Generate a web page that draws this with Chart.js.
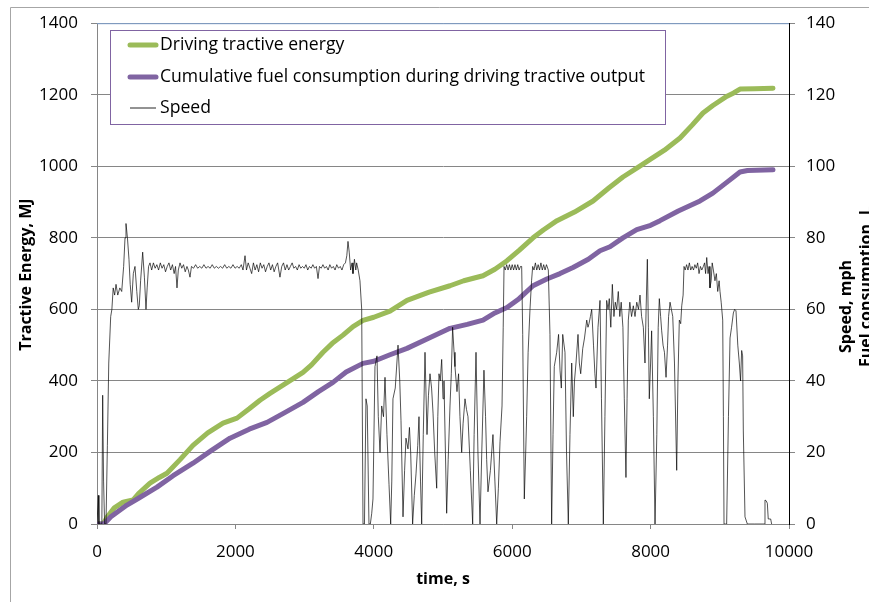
<!DOCTYPE html>
<html>
<head>
<meta charset="utf-8">
<script src="https://cdn.jsdelivr.net/npm/chart.js@4.4.1/dist/chart.umd.min.js"></script>
<style>
  html, body { margin: 0; padding: 0; background: #fff; }
  #wrap { width: 869px; height: 602px; position: relative; }
</style>
</head>
<body>
<div id="wrap"><canvas id="chartCanvas" width="869" height="602"></canvas></div>
<script>
// Driving tractive energy, MJ (left axis)
const energyTime = [0, 90, 150, 250, 376, 520, 600, 766, 900, 1011, 1200, 1387, 1600, 1821, 2023, 2200, 2355, 2500, 2688, 2977, 3100, 3266, 3400, 3555, 3700, 3844, 4000, 4234, 4480, 4800, 5101, 5300, 5578, 5750, 5925, 6100, 6301, 6450, 6647, 6900, 7168, 7400, 7600, 7800, 8000, 8200, 8425, 8600, 8757, 8900, 9104, 9200, 9292, 9500, 9769];
const energyMJ = [0, 0, 20, 45, 61, 67, 85, 114, 130, 142, 180, 220, 255, 282, 296, 322, 346, 365, 388, 424, 445, 480, 505, 528, 552, 569, 578, 595, 625, 648, 666, 680, 694, 712, 736, 765, 800, 822, 848, 872, 903, 940, 970, 995, 1020, 1045, 1079, 1115, 1149, 1170, 1196, 1205, 1216, 1217, 1218];

// Cumulative fuel consumption, L (right axis)
const fuelTime = [0, 100, 200, 433, 600, 867, 1100, 1387, 1650, 1922, 2200, 2457, 2700, 2977, 3200, 3410, 3600, 3844, 4000, 4234, 4480, 4800, 5101, 5350, 5578, 5750, 5925, 6100, 6301, 6500, 6691, 6879, 7100, 7269, 7413, 7600, 7800, 8000, 8136, 8400, 8714, 8900, 9100, 9292, 9400, 9769];
const fuelL = [0, 0, 2, 5.3, 7.2, 10.3, 13.5, 17, 20.5, 24, 26.5, 28.4, 31, 34, 37, 39.6, 42.5, 44.9, 45.5, 47.3, 49.1, 52, 54.7, 55.8, 57, 59, 60.5, 63, 66.6, 68.5, 70, 71.7, 74, 76.4, 77.5, 80, 82.3, 83.5, 84.8, 87.5, 90.3, 92.5, 95.5, 98.4, 98.8, 99];

// Vehicle speed, mph (right axis)
const speedTime = [
  0, 12, 20, 28, 70, 82, 95, 110, 130, 150, 170, 198, 215, 234, 255, 275, 300, 330, 357, 385,
  405, 419, 440, 462, 480, 501, 525, 549, 575, 597, 611, 630, 660, 685, 708, 725, 745, 766, 790, 815,
  840, 865, 890, 915, 940, 965, 990, 1015, 1040, 1065, 1090, 1115, 1135, 1156, 1175, 1200, 1225, 1250, 1275, 1300,
  1320, 1344, 1365, 1395, 1425, 1455, 1485, 1515, 1545, 1575, 1605, 1635, 1665, 1695, 1725, 1755, 1785, 1815, 1845, 1875,
  1905, 1935, 1965, 1995, 2025, 2055, 2085, 2110, 2139, 2160, 2185, 2210, 2235, 2260, 2285, 2310, 2335, 2360, 2385, 2410,
  2435, 2460, 2485, 2510, 2535, 2560, 2585, 2610, 2644, 2670, 2695, 2720, 2745, 2770, 2795, 2820, 2845, 2870, 2895, 2920,
  2945, 2970, 2995, 3020, 3045, 3070, 3095, 3120, 3145, 3170, 3194, 3215, 3240, 3265, 3290, 3315, 3340, 3365, 3390, 3415,
  3440, 3465, 3490, 3515, 3540, 3565, 3590, 3610, 3627, 3645, 3665, 3685, 3699, 3720, 3740, 3752, 3775, 3800, 3825, 3844,
  3865, 3887, 3905, 3930, 3950, 3970, 3988, 4017, 4046, 4065, 4090, 4114, 4140, 4162, 4190, 4220, 4244, 4260, 4277, 4310,
  4350, 4375, 4393, 4422, 4445, 4465, 4494, 4515, 4533, 4561, 4585, 4610, 4635, 4653, 4675, 4692, 4715, 4740, 4769, 4790,
  4812, 4835, 4856, 4880, 4909, 4925, 4942, 4960, 4981, 5000, 5014, 5035, 5053, 5075, 5101, 5120, 5139, 5160, 5173, 5202,
  5225, 5245, 5270, 5290, 5318, 5340, 5361, 5395, 5429, 5450, 5477, 5505, 5535, 5560, 5592, 5615, 5631, 5650, 5685, 5722,
  5750, 5776, 5800, 5824, 5853, 5870, 5882, 5900, 5920, 5940, 5960, 5980, 6000, 6020, 6040, 6060, 6080, 6100, 6120, 6137,
  6152, 6175, 6195, 6209, 6230, 6257, 6280, 6296, 6315, 6335, 6355, 6375, 6395, 6415, 6435, 6455, 6475, 6495, 6522, 6546,
  6570, 6590, 6608, 6643, 6670, 6691, 6710, 6730, 6763, 6785, 6811, 6835, 6860, 6883, 6900, 6922, 6951, 6970, 6990, 7019,
  7045, 7077, 7095, 7110, 7130, 7149, 7175, 7195, 7211, 7240, 7269, 7290, 7317, 7340, 7365, 7385, 7403, 7425, 7447, 7470,
  7490, 7510, 7533, 7555, 7575, 7600, 7620, 7644, 7660, 7678, 7700, 7725, 7750, 7775, 7800, 7825, 7847, 7870, 7895, 7919,
  7935, 7953, 7968, 7981, 8000, 8015, 8040, 8064, 8090, 8110, 8126, 8145, 8160, 8180, 8200, 8223, 8245, 8260, 8281, 8300,
  8320, 8345, 8377, 8395, 8415, 8435, 8450, 8470, 8483, 8500, 8520, 8540, 8560, 8580, 8600, 8620, 8640, 8660, 8680, 8700,
  8720, 8740, 8762, 8780, 8795, 8811, 8830, 8845, 8858, 8875, 8890, 8907, 8930, 8950, 8970, 8990, 9003, 9020, 9042, 9052,
  9061, 9080, 9099, 9125, 9148, 9170, 9196, 9215, 9234, 9260, 9282, 9300, 9316, 9330, 9340, 9364, 9398, 9500, 9639, 9653,
  9670, 9687, 9700, 9735, 9749
];
const speedMph = [
  0, 0, 8, 0, 0, 36, 12, 0, 0, 22, 45, 58, 60, 66, 64, 67, 64, 66, 65, 72,
  80, 84, 80, 74, 67, 62, 70, 72, 65, 60, 61, 68, 76, 69, 60, 66, 72, 73, 71, 73,
  71.5, 72.5, 71, 73, 71.5, 72.5, 70.5, 72, 73, 71, 72.5, 70, 72, 66, 71, 73, 71.5, 72.5, 70.5, 72,
  71, 69, 72, 71.5, 72.5, 71.5, 72, 71.5, 72.5, 71.5, 72, 71.5, 72.5, 71.5, 72, 71.5, 72, 71.5, 72.5, 71.5,
  72, 71.5, 72.5, 71.5, 72, 71.5, 72.5, 71, 75, 71, 73, 71.5, 70, 73, 71, 72.5, 70.5, 73, 71.5, 72.5,
  70.5, 72, 73, 71, 72.5, 70.5, 72, 73, 69, 72, 73, 71, 72.5, 71, 72, 73, 71.5, 72, 71, 72.5,
  71.5, 72, 71.5, 72.5, 71, 72, 71.5, 72.5, 71.5, 72, 68.6, 72, 71.5, 72.5, 71.5, 72, 71, 72.5, 71.5, 72,
  71, 72.5, 71.5, 72, 71, 72.5, 73, 75, 79, 76, 71, 73, 70, 74, 71, 73, 71, 68, 60, 0,
  0, 35, 33, 0, 0, 3, 7, 44, 47, 30, 20, 33, 30, 41, 25, 11, 0, 12, 35, 38,
  50, 40, 29, 2, 15, 24, 21, 27, 20, 0, 8, 14, 22, 30, 12, 0, 25, 48, 25, 36,
  42, 38, 31, 20, 10, 30, 42, 40, 46, 35, 40, 20, 3, 18, 33, 42, 55, 48, 44, 37,
  42, 30, 20, 28, 35, 32, 30, 15, 0, 25, 48, 20, 0, 20, 43, 30, 18, 9, 15, 25,
  12, 0, 10, 23, 33, 55, 72, 71, 72.5, 71, 72.5, 71, 72.5, 71, 72.5, 71, 72.5, 71, 72, 72,
  53, 7, 20, 30, 48, 60, 68, 72, 71, 73, 71, 72.5, 71, 73, 71, 72.5, 71, 72.5, 71, 53,
  0, 25, 44, 48, 53, 43, 38, 53, 48, 20, 0, 25, 45, 30, 40, 45, 53, 45, 42, 49,
  52, 57, 55, 56, 58, 60, 50, 42, 38, 55, 62.5, 35, 0, 30, 62.5, 60, 63, 55, 67, 58,
  62, 60, 65, 58, 62, 55, 35, 13, 35, 57, 62, 58, 61, 58, 62, 60, 64, 58, 55, 45,
  60, 74, 55, 35, 45, 54, 30, 0, 25, 55, 63, 58, 54, 50, 48, 41, 50, 58, 62, 60,
  58, 45, 15, 40, 57, 56, 61, 64, 72, 71, 72.5, 71, 73, 71, 72, 71, 72.5, 71.5, 73, 70,
  72, 71, 72, 73, 70, 74.5, 70, 72, 66, 68, 73, 71, 68, 70, 65, 68, 65, 62, 57, 30,
  0, 0, 0, 30, 52, 55, 59, 60, 59.6, 50, 45, 40, 48.5, 47, 26, 2, 0, 0, 0, 6.7,
  6.5, 5.8, 1.4, 1.4, 0
];

const xTicks = [0, 2000, 4000, 6000, 8000, 10000];
const leftTicks = [0, 200, 400, 600, 800, 1000, 1200, 1400];
const rightTicks = [0, 20, 40, 60, 80, 100, 120, 140];

const seriesLabels = ['Driving tractive energy', 'Cumulative fuel consumption during driving tractive output', 'Speed'];
const greenColor = '#9bbb59';
const purpleColor = '#8064a2';
const gridColor = '#868686';
const fontFamily = '"Open Sans", Lato, sans-serif';

const toPoints = (xs, ys) => xs.map((x, i) => ({ x: x, y: ys[i] }));
const plainNumber = (v) => String(v);

// frame, titles and the boxed legend are painted by hand
const decorations = {
    id: 'decorations',
    beforeDraw(chart) {
        const ctx = chart.ctx;
        ctx.save();
        ctx.fillStyle = '#fff';
        ctx.fillRect(0, 0, chart.width, chart.height);
        ctx.strokeStyle = '#a6a6a6';
        ctx.lineWidth = 1;
        ctx.beginPath();
        ctx.moveTo(10.5, chart.height);
        ctx.lineTo(10.5, 7.5);
        ctx.lineTo(chart.width, 7.5);
        ctx.stroke();
        ctx.restore();
    },
    afterDraw(chart) {
        const ctx = chart.ctx;
        const area = chart.chartArea;
        ctx.save();

        // top edge of plot area
        ctx.strokeStyle = '#7f9fcc';
        ctx.lineWidth = 1;
        ctx.beginPath();
        ctx.moveTo(area.left, area.top + 0.5);
        ctx.lineTo(area.right, area.top + 0.5);
        ctx.stroke();

        // axis titles
        ctx.fillStyle = '#000';
        ctx.font = 'bold 16px ' + fontFamily;
        ctx.textBaseline = 'middle';
        ctx.textAlign = 'center';
        ctx.fillText('time, s', (area.left + area.right) / 2, 579);

        ctx.save();
        ctx.translate(26, (area.top + area.bottom) / 2 + 1);
        ctx.rotate(-Math.PI / 2);
        ctx.fillText('Tractive Energy, MJ', 0, 0);
        ctx.restore();

        ctx.textAlign = 'left';
        ctx.save();
        ctx.translate(846, 353);
        ctx.rotate(-Math.PI / 2);
        ctx.fillText('Speed, mph', 0, 0);
        ctx.restore();

        ctx.save();
        ctx.translate(866, 367);
        ctx.rotate(-Math.PI / 2);
        ctx.fillText('Fuel consumption, L', 0, 0);
        ctx.restore();

        // legend box
        const box = { x: 110.5, y: 30.5, w: 555, h: 94 };
        ctx.fillStyle = '#fff';
        ctx.fillRect(box.x, box.y, box.w, box.h);
        ctx.strokeStyle = purpleColor;
        ctx.lineWidth = 1;
        ctx.strokeRect(box.x, box.y, box.w, box.h);

        const rows = [45, 77, 108];
        ctx.font = '17.6px ' + fontFamily;
        ctx.textAlign = 'left';
        ctx.textBaseline = 'middle';
        chart.data.datasets.forEach((ds, i) => {
            const y = rows[i];
            ctx.strokeStyle = ds.borderColor;
            ctx.lineWidth = ds.borderWidth < 2 ? 1 : 5;
            ctx.lineCap = ds.borderWidth < 2 ? 'butt' : 'round';
            ctx.beginPath();
            ctx.moveTo(130, y);
            ctx.lineTo(156, y);
            ctx.stroke();
            ctx.fillStyle = '#000';
            ctx.fillText(ds.label, 160, y);
        });
        ctx.restore();
    }
};

const ctx = document.getElementById('chartCanvas').getContext('2d');
const chart = new Chart(ctx, {
    type: 'line',
    data: {
        datasets: [
            {
                label: seriesLabels[0],
                data: toPoints(energyTime, energyMJ),
                yAxisID: 'y',
                borderColor: greenColor,
                borderWidth: 5,
                borderCapStyle: 'round',
                borderJoinStyle: 'round',
                pointRadius: 0,
                tension: 0,
                order: 2
            },
            {
                label: seriesLabels[1],
                data: toPoints(fuelTime, fuelL),
                yAxisID: 'y1',
                borderColor: purpleColor,
                borderWidth: 5,
                borderCapStyle: 'round',
                borderJoinStyle: 'round',
                pointRadius: 0,
                tension: 0,
                order: 1
            },
            {
                label: seriesLabels[2],
                data: toPoints(speedTime, speedMph),
                yAxisID: 'y1',
                borderColor: 'rgba(0,0,0,0.85)',
                borderWidth: 0.8,
                pointRadius: 0,
                tension: 0,
                order: 0
            }
        ]
    },
    options: {
        responsive: false,
        animation: false,
        layout: { padding: { top: 22, left: 0, right: 0, bottom: 0 } },
        plugins: {
            legend: { display: false },
            tooltip: { enabled: false }
        },
        scales: {
            x: {
                type: 'linear',
                min: 0,
                max: 10000,
                afterBuildTicks: (scale) => { scale.ticks = xTicks.map(v => ({ value: v })); },
                afterFit: (scale) => { scale.height = 78; },
                ticks: { color: '#000', font: { family: fontFamily, size: 17 }, padding: 13, maxRotation: 0, callback: plainNumber },
                grid: { drawOnChartArea: false, color: gridColor, tickLength: 5 },
                border: { color: gridColor }
            },
            y: {
                position: 'left',
                min: 0,
                max: 1400,
                afterBuildTicks: (scale) => { scale.ticks = leftTicks.map(v => ({ value: v })); },
                afterFit: (scale) => { scale.width = 97; },
                ticks: { color: '#000', font: { family: fontFamily, size: 17 }, padding: 13, callback: plainNumber },
                grid: { color: gridColor, tickLength: 6 },
                border: { color: gridColor }
            },
            y1: {
                position: 'right',
                min: 0,
                max: 140,
                afterBuildTicks: (scale) => { scale.ticks = rightTicks.map(v => ({ value: v })); },
                afterFit: (scale) => { scale.width = 80; },
                ticks: { color: '#000', font: { family: fontFamily, size: 17 }, padding: 11, callback: plainNumber },
                grid: { drawOnChartArea: false, color: gridColor, tickLength: 6 },
                border: { color: '#000' }
            }
        }
    },
    plugins: [decorations]
});
</script>
</body>
</html>
